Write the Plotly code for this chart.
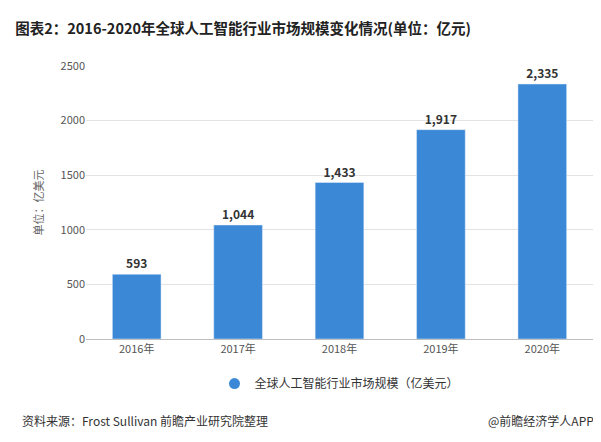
import plotly.graph_objects as go

years = ["2016年", "2017年", "2018年", "2019年", "2020年"]
values = [593, 1044, 1433, 1917, 2335]
labels = ["593", "1,044", "1,433", "1,917", "2,335"]

font = "Noto Sans CJK SC"
blue = "#3a88d6"

fig = go.Figure()
fig.add_trace(
    go.Bar(
        x=years,
        y=values,
        showlegend=False,
        marker=dict(color=blue),
        width=0.48,
        text=["<b>%s</b>" % t for t in labels],
        textposition="outside",
        textfont=dict(size=12, color="#333333", family=font),
        cliponaxis=False,
    )
)
# legend entry with round marker
fig.add_trace(
    go.Scatter(
        x=[None], y=[None], mode="markers",
        name="全球人工智能行业市场规模（亿美元）",
        marker=dict(color=blue, size=11, symbol="circle"),
    )
)

fig.update_xaxes(showline=True, linewidth=1, linecolor="#bfbfbf", ticks="",
                 tickfont=dict(size=11, color="#555555"))
fig.update_yaxes(range=[0, 2500], dtick=500, showgrid=True, gridcolor="#e3e3e3",
                 zeroline=False, tickfont=dict(size=11, color="#555555"),
                 title=dict(text="单位：亿美元", font=dict(size=11, color="#666666"), standoff=14))

fig.update_layout(
    title=dict(text="<b>图表2：2016-2020年全球人工智能行业市场规模变化情况(单位：亿元)</b>",
               x=0.012, y=0.965, xanchor="left", font=dict(size=14.5, color="#222222")),
    width=601,
    height=442,
    margin=dict(l=78, r=16, t=58, b=111),
    plot_bgcolor="white",
    paper_bgcolor="white",
    font=dict(family=font),
    showlegend=True,
    legend=dict(orientation="h", x=0.5, xanchor="center", y=-0.11, yanchor="top",
                font=dict(size=12, color="#333333")),
    annotations=[
        dict(text="资料来源：Frost Sullivan 前瞻产业研究院整理", xref="paper", yref="paper",
             x=-0.13, y=-0.3, xanchor="left", yanchor="middle", showarrow=False,
             font=dict(size=12, color="#333333")),
        dict(text="@前瞻经济学人APP", xref="paper", yref="paper",
             x=1.005, y=-0.3, xanchor="right", yanchor="middle", showarrow=False,
             font=dict(size=12, color="#333333")),
    ],
)

fig.write_html("out.html")
